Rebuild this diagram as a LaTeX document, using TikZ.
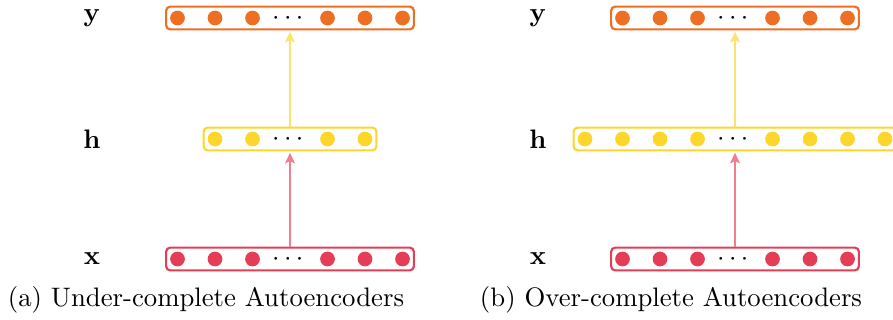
\documentclass[tikz,border=0pt]{standalone}
\usepackage{amsmath}
\usetikzlibrary{arrows.meta,positioning,fit}
\definecolor{orng}{HTML}{EC6F23}
\definecolor{yell}{HTML}{FCD62A}
\definecolor{rose}{HTML}{E43D55}
\definecolor{yellarr}{HTML}{FDE36E}
\definecolor{rosearr}{HTML}{EF7F8E}
\tikzset{unit/.style={circle,fill=#1,inner sep=0pt,minimum size=5.5pt},
  layer/.style={draw=#1,line width=0.8pt,rounded corners=1.5pt,inner sep=1.3pt},
  arrow/.style={-{Stealth[length=1.4mm,width=1.3mm,inset=0.3mm]},line width=0.6pt,draw=#1,shorten >=0.5pt},
  dotsnode/.style={inner sep=0pt,text height=1.2ex,text depth=0pt}}

\begin{document}
\begin{tikzpicture}[x=0.374pt,y=-0.374pt]
\useasboundingbox (0,0) rectangle (893,320);
% (a) under-complete
\foreach \i in {1,2,3,5,6,7} \node[unit=orng] (ya\i) at ({290+37.5*(\i-4)},18) {};
\node[dotsnode] (yadots) at (290,18) {$\cdots$};
\node[layer=orng,fit=(ya1)(ya7)] (ya) {};
\foreach \i in {1,2,4,5} \node[unit=yell] (ha\i) at ({290+37.5*(\i-3)},139) {};
\node[dotsnode] (hadots) at (290,139) {$\cdots$};
\node[layer=yell,fit=(ha1)(ha5)] (ha) {};
\foreach \i in {1,2,3,5,6,7} \node[unit=rose] (xa\i) at ({290+37.5*(\i-4)},259) {};
\node[dotsnode] (xadots) at (290,259) {$\cdots$};
\node[layer=rose,fit=(xa1)(xa7)] (xa) {};
\draw[arrow=rosearr] (xa) -- (ha);
\draw[arrow=yellarr] (ha) -- (ya);
\node (lya) at (92,18) {$\mathbf{y}$};
\node (lha) at (92,139) {$\mathbf{h}$};
\node (lxa) at (92,259) {$\mathbf{x}$};
\node (capa) at (206,300) {(a) Under-complete Autoencoders};
% (b) over-complete
\foreach \i in {1,2,3,5,6,7} \node[unit=orng] (yb\i) at ({735+37.5*(\i-4)},18) {};
\node[dotsnode] (ybdots) at (735,18) {$\cdots$};
\node[layer=orng,fit=(yb1)(yb7)] (yb) {};
\foreach \i in {1,2,3,4,6,7,8,9} \node[unit=yell] (hb\i) at ({735+37.5*(\i-5)},139) {};
\node[dotsnode] (hbdots) at (735,139) {$\cdots$};
\node[layer=yell,fit=(hb1)(hb9)] (hb) {};
\foreach \i in {1,2,3,5,6,7} \node[unit=rose] (xb\i) at ({735+37.5*(\i-4)},259) {};
\node[dotsnode] (xbdots) at (735,259) {$\cdots$};
\node[layer=rose,fit=(xb1)(xb7)] (xb) {};
\draw[arrow=rosearr] (xb) -- (hb);
\draw[arrow=yellarr] (hb) -- (yb);
\node (lyb) at (538,18) {$\mathbf{y}$};
\node (lhb) at (538,139) {$\mathbf{h}$};
\node (lxb) at (538,259) {$\mathbf{x}$};
\node (capb) at (671,300) {(b) Over-complete Autoencoders};
\end{tikzpicture}
\end{document}
